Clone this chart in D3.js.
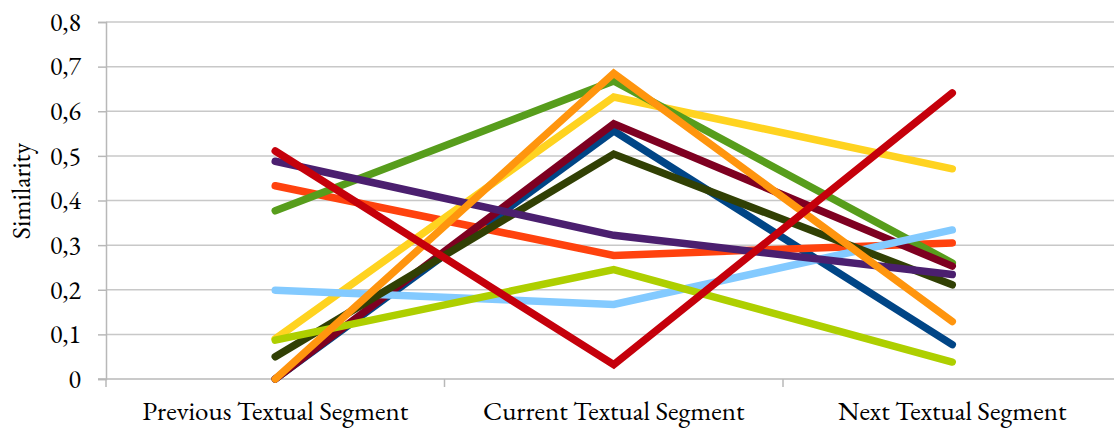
<!DOCTYPE html>
<html>
<head>
<meta charset="utf-8">
<script src="https://cdn.jsdelivr.net/npm/d3@7"></script>
<style>
  body { margin: 0; background: #fff; }
</style>
</head>
<body>
<div id="chart"></div>
<script>
const categories = ["Previous Textual Segment", "Current Textual Segment", "Next Textual Segment"];
const yTicks = [0, 0.1, 0.2, 0.3, 0.4, 0.5, 0.6, 0.7, 0.8];

// series in drawing order (later ones on top)
const seriesValues = [
  [0.0, 0.556, 0.077],   // blue
  [0.433, 0.277, 0.305], // orange red
  [0.09, 0.632, 0.471],  // yellow
  [0.377, 0.668, 0.26],  // green
  [0.0, 0.572, 0.253],   // dark red
  [0.199, 0.167, 0.334], // light blue
  [0.05, 0.504, 0.211],  // olive
  [0.087, 0.245, 0.038], // lime
  [0.488, 0.322, 0.234], // purple
  [0.0, 0.685, 0.129],   // orange
  [0.511, 0.032, 0.641]  // red
];
const colors = ["#004586", "#ff420e", "#ffd320", "#579d1c", "#7e0021", "#83caff",
                "#314004", "#aecf00", "#4b1f6f", "#ff950e", "#c5000b"];

const W = 1114, H = 431;
const margin = { top: 22, left: 106, bottom: 52 };
const bandW = 338.5;
const plotH = H - margin.top - margin.bottom;
const FONT = "'EB Garamond', 'Liberation Serif', serif";

const svg = d3.select("#chart").append("svg")
  .attr("width", W)
  .attr("height", H);

const x = d3.scaleBand()
  .domain(categories)
  .range([margin.left, margin.left + bandW * categories.length])
  .padding(0);

const y = d3.scaleLinear()
  .domain([0, 0.8])
  .range([margin.top + plotH, margin.top]);

const fmt = d => d === 0 ? "0" : d3.format(".1f")(d).replace(".", ",");

// gridlines
svg.append("g")
  .selectAll("line")
  .data(yTicks.slice(1))
  .enter().append("line")
  .attr("x1", margin.left)
  .attr("x2", x.range()[1])
  .attr("y1", d => y(d))
  .attr("y2", d => y(d))
  .attr("stroke", "#c8c8c8")
  .attr("stroke-width", 1.5);

// y axis
const yAxis = svg.append("g")
  .attr("transform", `translate(${margin.left},0)`)
  .call(d3.axisLeft(y).tickValues(yTicks).tickFormat(fmt).tickSize(8).tickPadding(17));
yAxis.select(".domain").attr("stroke", "#b8b8b8").attr("stroke-width", 1.5);
yAxis.selectAll(".tick line").attr("stroke", "#b8b8b8").attr("stroke-width", 1.5);
yAxis.selectAll(".tick text")
  .attr("fill", "#000")
  .style("font-family", FONT)
  .style("font-variant-numeric", "lining-nums")
  .style("font-size", "26px");

// x axis: ticks between categories
const xBase = y(0);
const xAxis = svg.append("g");
xAxis.append("line")
  .attr("x1", margin.left - 8)
  .attr("x2", x.range()[1])
  .attr("y1", xBase)
  .attr("y2", xBase)
  .attr("stroke", "#b8b8b8")
  .attr("stroke-width", 1.5);
xAxis.selectAll(".xtick")
  .data(categories)
  .enter().append("line")
  .attr("class", "xtick")
  .attr("x1", d => x(d))
  .attr("x2", d => x(d))
  .attr("y1", xBase)
  .attr("y2", xBase + 8)
  .attr("stroke", "#b8b8b8")
  .attr("stroke-width", 1.5);
xAxis.selectAll(".xlabel")
  .data(categories)
  .enter().append("text")
  .attr("class", "xlabel")
  .attr("x", d => x(d) + x.bandwidth() / 2)
  .attr("y", 420)
  .attr("text-anchor", "middle")
  .style("font-family", FONT)
  .style("font-size", "27px")
  .text(d => d);

// y title
svg.append("text")
  .attr("transform", "translate(30,191) rotate(-90)")
  .attr("text-anchor", "middle")
  .style("font-family", FONT)
  .style("font-size", "26px")
  .text("Similarity");

// lines
const line = d3.line()
  .x((d, i) => x(categories[i]) + x.bandwidth() / 2)
  .y(d => y(d));

svg.append("g")
  .selectAll("path")
  .data(seriesValues)
  .enter().append("path")
  .attr("d", d => line(d))
  .attr("fill", "none")
  .attr("stroke", (d, i) => colors[i])
  .attr("stroke-width", 7.5)
  .attr("stroke-linecap", "round")
  .attr("stroke-linejoin", "miter");
</script>
</body>
</html>
